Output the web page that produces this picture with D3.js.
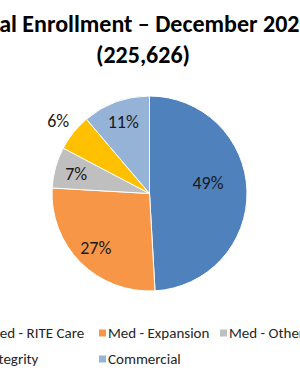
<!DOCTYPE html>
<html>
  <head>
    <meta charset="utf-8">
    <title>Enrollment</title>
    <script src="https://d3js.org/d3.v7.min.js"></script>
    <style>
      body { margin: 0; background: #fff; }
      svg { display: block; font-family: Carlito, Lato, "Open Sans", sans-serif; }
    </style>
  </head>
  <body>
    <svg></svg>
    <script>
      // Data values
      var titleLines = ["Total Enrollment \u2013 December 2020", "(225,626)"];
      var categories = ["Med - RITE Care", "Med - Expansion", "Med - Other", "Integrity", "Commercial"];
      var shares = [49.1, 26.8, 6.8, 6.1, 11.2];
      var colors = ["#4f81bd", "#f79646", "#bfbfbf", "#ffc000", "#95b3d7"];

      var width = 300, height = 372;
      var cx = 149.5, cy = 193.5, r = 97.5;

      var svg = d3.select("svg")
        .attr("width", width)
        .attr("height", height);

      svg.append("rect").attr("width", width).attr("height", height).attr("fill", "#fff");

      // Title
      svg.selectAll("text.title")
        .data(titleLines)
          .enter().append("text")
            .attr("class", "title")
            .attr("x", function(d, i) { return i == 0 ? 140 : 143; })
            .attr("y", function(d, i) { return i == 0 ? 32 : 63; })
            .attr("text-anchor", "middle")
            .style("font-size", "24px")
            .style("font-weight", "bold")
            .style("fill", "#000")
            .text(function(d) { return d; });

      // Pie
      var pie = d3.pie().sort(null).value(function(d) { return d; });
      var arc = d3.arc().innerRadius(0).outerRadius(r);
      var arcs = pie(shares);

      var g = svg.append("g").attr("transform", "translate(" + cx + "," + cy + ")");

      g.selectAll("path")
        .data(arcs)
          .enter().append("path")
            .attr("d", arc)
            .style("fill", function(d, i) { return colors[i]; })
            .style("stroke", "#fff")
            .style("stroke-width", 1);

      // labels: big slice nearer the centre, tiny slice outside
      function labelRadius(v) {
        if (v > 40) return r * 0.6;
        if (v < 6.5) return r * 1.2;
        return r * 0.78;
      }

      g.selectAll("text.lbl")
        .data(arcs)
          .enter().append("text")
            .attr("class", "lbl")
            .attr("transform", function(d) {
              var lr = labelRadius(d.data);
              var c = d3.arc().innerRadius(lr).outerRadius(lr).centroid(d);
              // Excel nudges the big label a bit upward
              if (d.data > 40) c[1] -= 9;
              return "translate(" + c[0] + "," + c[1] + ")";
            })
            .attr("text-anchor", "middle")
            .attr("dy", "0.35em")
            .style("font-size", "18px")
            .style("fill", "#1a1a1a")
            .text(function(d) { return Math.round(d.data) + "%"; });

      // Legend, three columns
      var legend = svg.selectAll("g.leg")
        .data(categories)
          .enter().append("g")
            .attr("class", "leg")
            .attr("transform", function(d, i) {
              return "translate(" + (-22 + (i % 3) * 121) + "," + (333 + Math.floor(i / 3) * 26) + ")";
            });

      legend.append("rect")
        .attr("x", 0).attr("y", -3.5)
        .attr("width", 7).attr("height", 7)
        .style("fill", function(d, i) { return colors[i]; });

      legend.append("text")
        .attr("x", 9)
        .attr("dy", "0.35em")
        .style("font-size", "15px")
        .style("fill", "#262626")
        .text(function(d) { return d; });
    </script>
  </body>
</html>
